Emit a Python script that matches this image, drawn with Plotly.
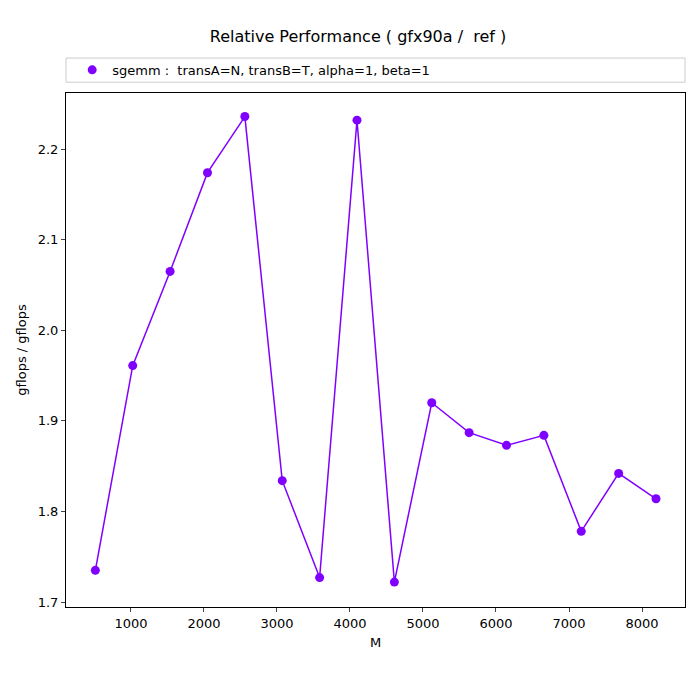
import plotly.graph_objects as go

# data
m_vals = [512, 1024, 1536, 2048, 2560, 3072, 3584, 4096, 4608, 5120, 5632, 6144, 6656, 7168, 7680, 8192]
ratio = [1.735, 1.961, 2.065, 2.174, 2.236, 1.834, 1.727, 2.232, 1.722, 1.920, 1.887, 1.873, 1.884, 1.778, 1.842, 1.814]
label = 'sgemm :  transA=N, transB=T, alpha=1, beta=1'

fig = go.Figure()
fig.add_trace(go.Scatter(x=m_vals, y=ratio, mode='lines+markers', showlegend=False,
                         line=dict(color='#8000ff', width=1.5),
                         marker=dict(color='#8000ff', size=9)))
# legend entry (marker only)
fig.add_trace(go.Scatter(x=[None], y=[None], mode='markers', name=label,
                         marker=dict(color='#8000ff', size=9)))

# legend frame spanning plot width
fig.add_shape(type='rect', xref='paper', yref='paper', x0=0, x1=1, y0=1.021, y1=1.068,
              line=dict(color='#cccccc', width=1), fillcolor='white')

fig.update_layout(
    width=700, height=700,
    margin=dict(l=58, r=23, t=85, b=101),
    plot_bgcolor='white', paper_bgcolor='white',
    font=dict(family='DejaVu Sans', size=13, color='black'),
    title=dict(text='Relative Performance ( gfx90a /  ref )', x=0.5, xanchor='center',
               y=0.96, yanchor='middle', font=dict(size=16)),
    showlegend=True,
    legend=dict(x=0.01, y=1.045, xanchor='left', yanchor='middle', orientation='h',
                bgcolor='rgba(0,0,0,0)', font=dict(size=13)),
    xaxis=dict(title=dict(text='M', standoff=8, font=dict(size=13)), range=[110, 8589],
               tickvals=list(range(1000, 9000, 1000)),
               showgrid=False, zeroline=False, showline=True, linecolor='black', mirror=True,
               ticks='outside', ticklen=4),
    yaxis=dict(title=dict(text='gflops / gflops', standoff=8, font=dict(size=13)), range=[1.6945, 2.262],
               tickvals=[1.7, 1.8, 1.9, 2.0, 2.1, 2.2], tickformat='.1f',
               showgrid=False, zeroline=False, showline=True, linecolor='black', mirror=True,
               ticks='outside', ticklen=4),
)

fig.write_html('out.html')
